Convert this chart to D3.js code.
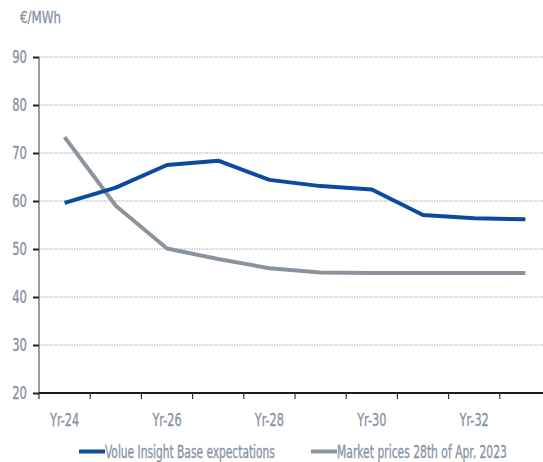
<!DOCTYPE html>
<html>
<head>
<meta charset="utf-8">
<script src="https://cdn.jsdelivr.net/npm/d3@7"></script>
<style>
  html, body { margin: 0; padding: 0; background: #fff; }
  svg { display: block; }
  text { font-family: "DejaVu Sans Condensed", "DejaVu Sans", sans-serif; }
</style>
</head>
<body>
<svg id="chart" width="543" height="462"></svg>
<script>
// Price outlook, €/MWh
const years = ["Yr-24","Yr-25","Yr-26","Yr-27","Yr-28","Yr-29","Yr-30","Yr-31","Yr-32","Yr-33"];
const baseExpectations = [59.6, 62.8, 67.5, 68.4, 64.4, 63.1, 62.4, 57.1, 56.4, 56.2];
const marketPrices = [73.3, 59.0, 50.1, 47.9, 46.0, 45.1, 45.0, 45.0, 45.0, 45.0];
const yTicks = [20, 30, 40, 50, 60, 70, 80, 90];
const xLabels = ["Yr-24","Yr-26","Yr-28","Yr-30","Yr-32"];
const seriesNames = ["Volue Insight Base expectations", "Market prices 28th of Apr. 2023"];

const svg = d3.select("#chart");
const W = 543;
const textColor = "#8794a3";
const blue = "#0b4a9f";
const grey = "#8b949c";

// Places a narrowed text: anchor point (ax, ay), horizontal squeeze factor sx
function narrowText(parent, str, ax, ay, size, sx, anchor) {
  return parent.append("text")
    .attr("transform", `translate(${ax},${ay}) scale(${sx},1)`)
    .attr("text-anchor", anchor || "start")
    .attr("fill", textColor)
    .attr("stroke", textColor)
    .attr("stroke-width", 0.35)
    .attr("font-size", size)
    .text(str);
}

const x = d3.scaleBand().domain(years).range([39, 551]);
const y = d3.scaleLinear().domain([20, 90]).range([393, 57]);

// horizontal dotted gridlines
svg.append("g")
  .selectAll("line")
  .data(yTicks.filter(v => v > 20))
  .join("line")
  .attr("x1", 39).attr("x2", W)
  .attr("y1", d => y(d)).attr("y2", d => y(d))
  .attr("stroke", "#a4acb4")
  .attr("stroke-width", 1)
  .attr("stroke-dasharray", "1.5,1");

// y axis
const yAxis = svg.append("g")
  .attr("transform", "translate(39,0)")
  .call(d3.axisLeft(y).tickValues(yTicks).tickSize(6).tickFormat(""));
yAxis.select(".domain").attr("stroke", "#7c7c7c").attr("stroke-width", 1.5)
  .attr("d", `M0,${y(90)}V${y(20)}`);
yAxis.selectAll(".tick line").attr("stroke", "#222").attr("stroke-width", 2);
const yl = svg.append("g");
yTicks.forEach(v => narrowText(yl, String(v), 27, y(v) + 6, 17, 0.76, "end"));

// x axis: ticks at band boundaries, labels at band centres
const xg = svg.append("g").attr("transform", `translate(0,${y(20)})`);
xg.append("line").attr("x1", 39).attr("x2", W).attr("y1", 0).attr("y2", 0)
  .attr("stroke", "#1a1a1a").attr("stroke-width", 2);
xg.selectAll("line.tk")
  .data(years)
  .join("line").attr("class", "tk")
  .attr("x1", d => x(d)).attr("x2", d => x(d))
  .attr("y1", 0).attr("y2", 6)
  .attr("stroke", "#333").attr("stroke-width", 1.2);
xLabels.forEach(d => narrowText(xg, d, x(d) + x.bandwidth() / 2, 33, 17, 0.74, "middle"));

// unit label
narrowText(svg, "€/MWh", 20, 23, 16.5, 0.8, "start");

// series lines
const line = d3.line()
  .x((d, i) => x(years[i]) + x.bandwidth() / 2)
  .y(d => y(d));

svg.append("path").datum(marketPrices)
  .attr("d", line).attr("fill", "none")
  .attr("stroke", grey).attr("stroke-width", 4).attr("stroke-linejoin", "round");
svg.append("path").datum(baseExpectations)
  .attr("d", line).attr("fill", "none")
  .attr("stroke", blue).attr("stroke-width", 4).attr("stroke-linejoin", "round");

// legend
const legend = [
  { name: seriesNames[0], color: blue, x0: 79, tx: 105, w: 170 },
  { name: seriesNames[1], color: grey, x0: 311, tx: 337, w: 170 }
];
const lg = svg.append("g");
legend.forEach(d => {
  lg.append("line")
    .attr("x1", d.x0).attr("x2", d.tx)
    .attr("y1", 451.5).attr("y2", 451.5)
    .attr("stroke", d.color).attr("stroke-width", 4);
  const t = narrowText(lg, d.name, d.tx, 457.5, 17.5, 1, "start");
  const natural = t.node().getComputedTextLength();
  t.attr("transform", `translate(${d.tx},457.5) scale(${d.w / natural},1)`);
});
</script>
</body>
</html>
